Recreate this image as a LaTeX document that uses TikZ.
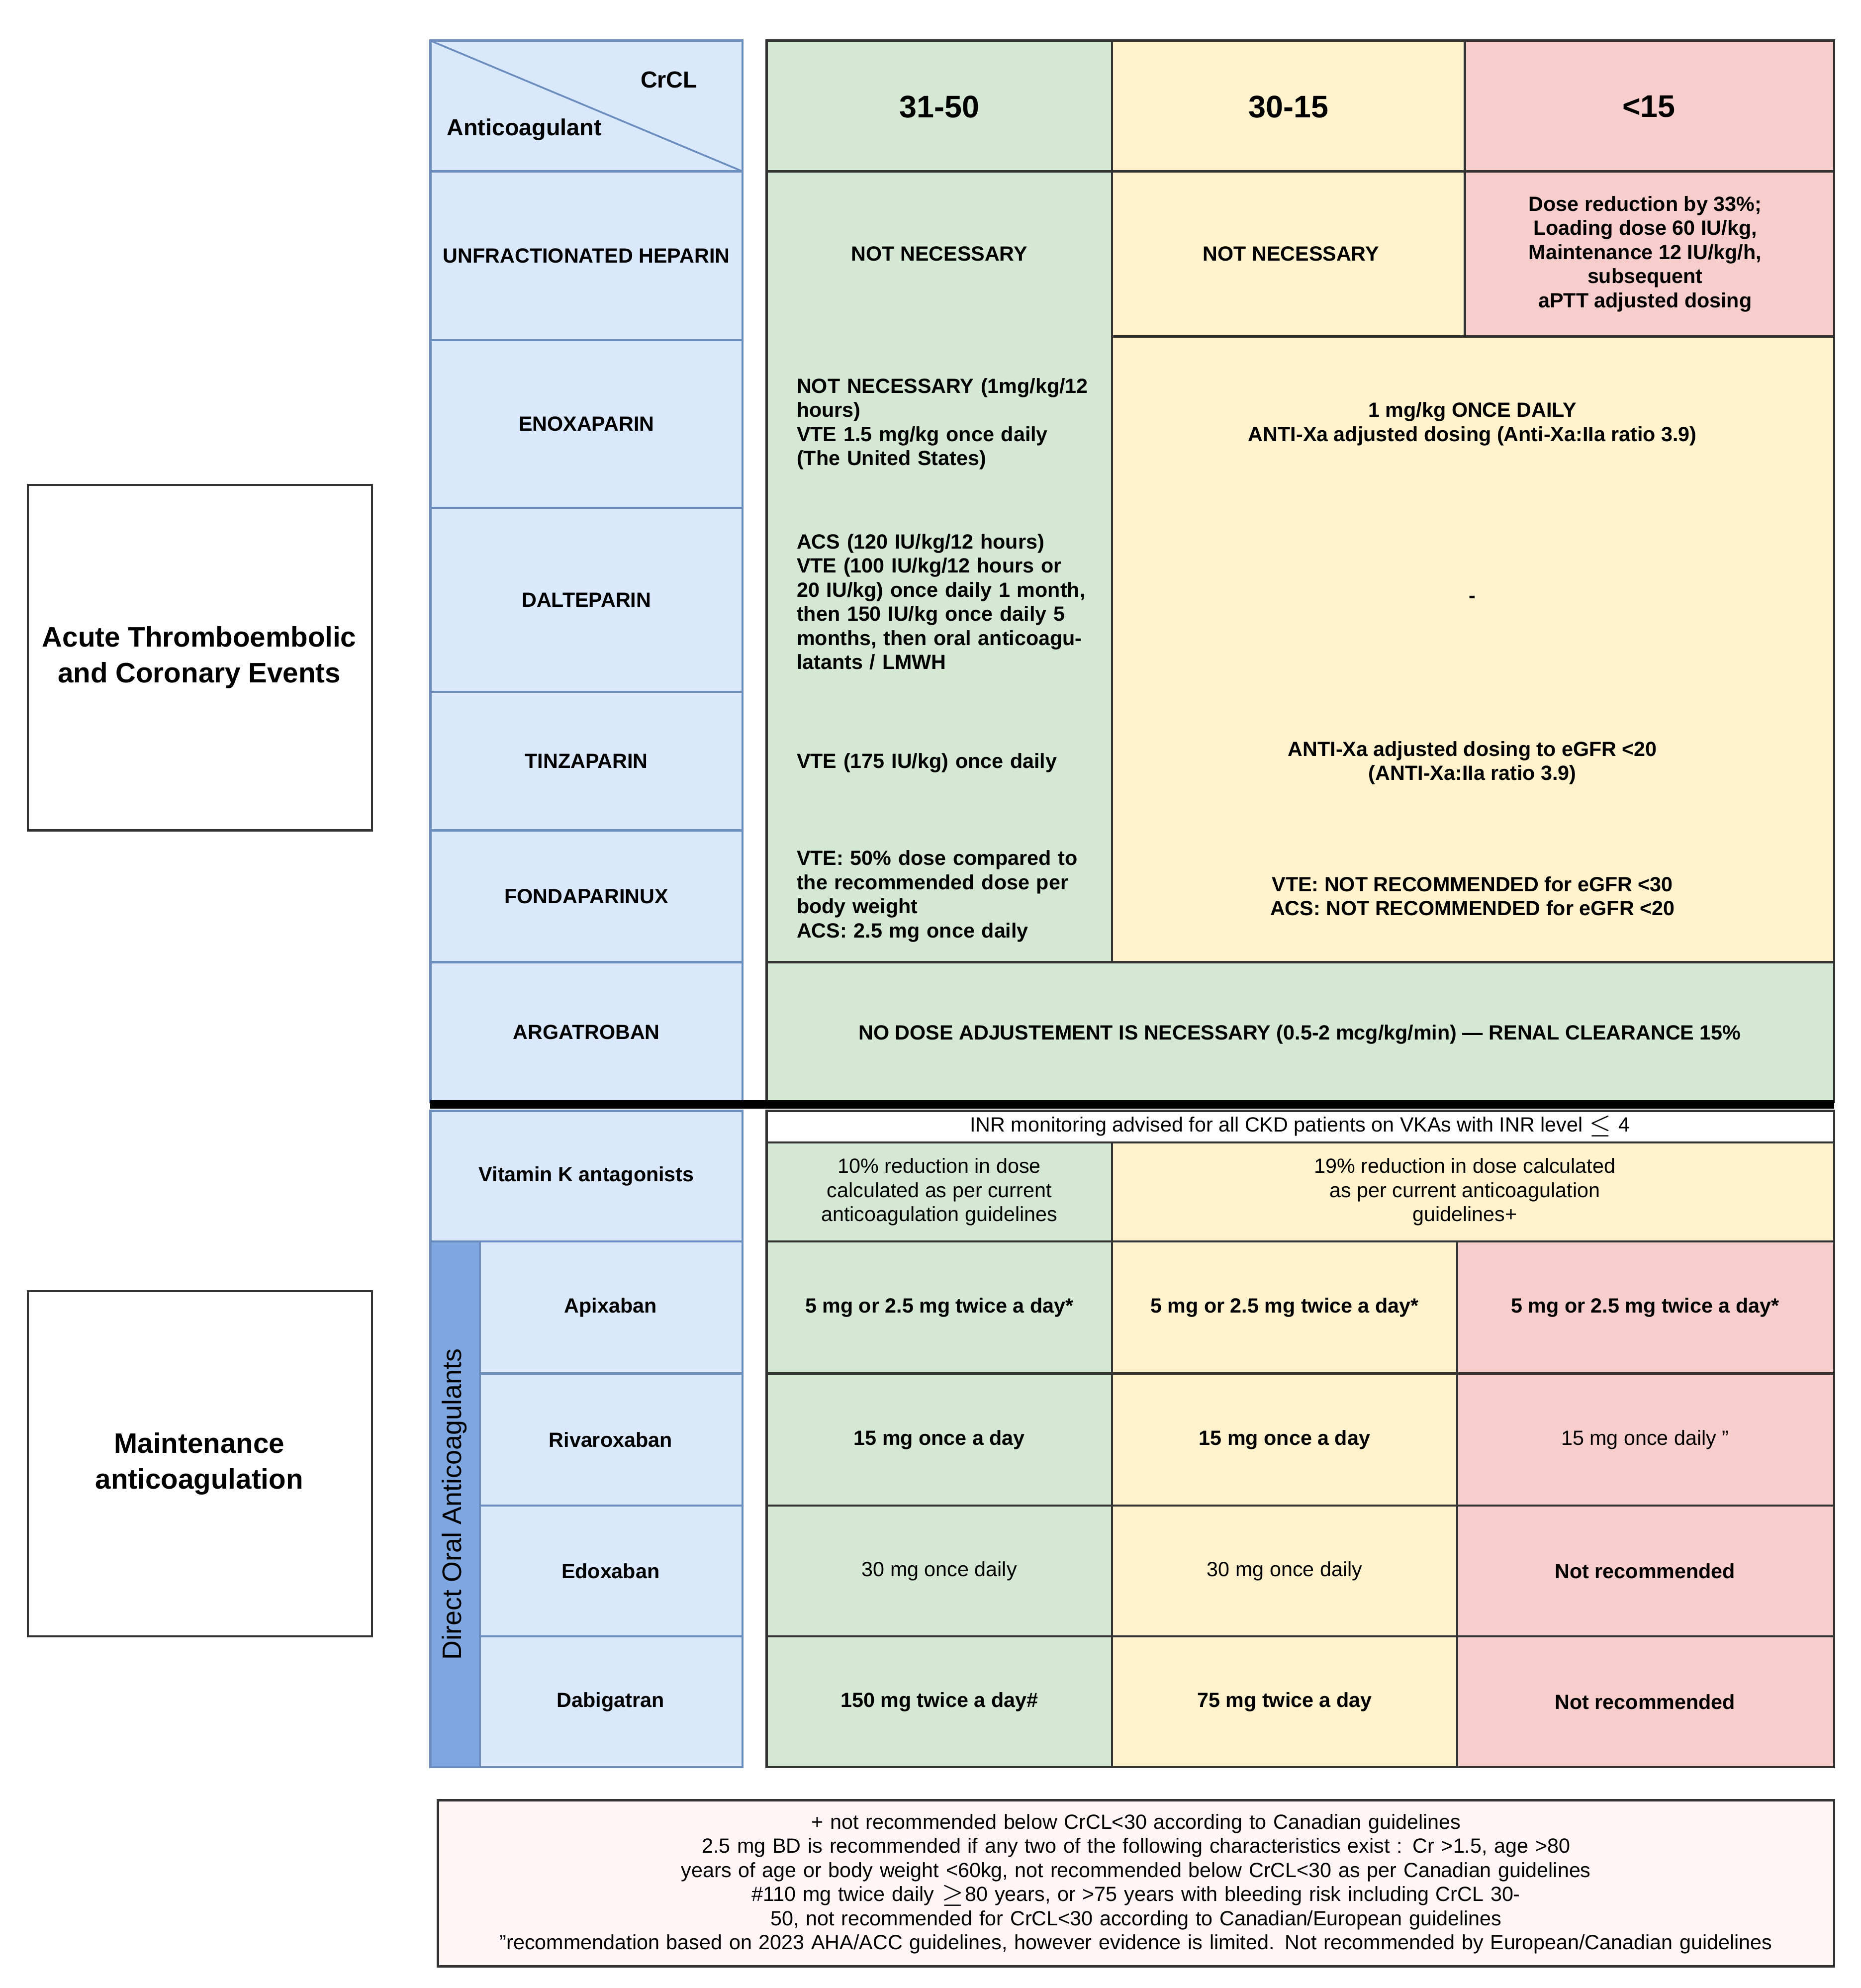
\documentclass[tikz,border=0pt]{standalone}
\usepackage{fontspec}
\setmainfont{Liberation Sans}
\begin{document}
\begin{tikzpicture}[x=0.01cm,y=-0.01cm,
  bx/.style={draw=black!80,line width=0.5pt},
  bl/.style={bx,fill=blue!12!white,draw=blue!45!black!70},
  gr/.style={bx,fill=green!10!gray!15!white,fill={rgb,255:red,213;green,232;blue,212}},
  ye/.style={bx,fill={rgb,255:red,255;green,242;blue,204}},
  re/.style={bx,fill={rgb,255:red,248;green,206;blue,204}},
  t/.style={font=\fontsize{4.6}{5.4}\selectfont\bfseries,align=center,inner sep=0pt},
  tr/.style={font=\fontsize{4.6}{5.4}\selectfont,align=center,inner sep=0pt},
  tl/.style={t,align=left,anchor=west,text width=2.35cm},
  h/.style={font=\fontsize{7}{8}\selectfont\bfseries,inner sep=0pt},
  big/.style={font=\fontsize{6.3}{8}\selectfont\bfseries,align=center,inner sep=0pt}]
\useasboundingbox (0,0) rectangle (1466,1566);
\colorlet{lb}{blue!5!white}
\tikzset{bl/.style={draw={rgb,255:red,108;green,142;blue,191},line width=0.5pt,fill={rgb,255:red,218;green,232;blue,252}}}
% left boxes
\draw[bx] (22,382) rectangle (293,654);
\node[big] (acute) at (157,518) {Acute Thromboembolic\\and Coronary Events};
\draw[bx] (22,1017) rectangle (293,1289);
\node[big] (maint) at (157,1153) {Maintenance\\anticoagulation};
% left column
\draw[bl] (339,32) rectangle (585,135);
\draw[bl,line width=0.4pt] (339,32) -- (585,135);
\node[t,font=\fontsize{5.2}{6}\selectfont\bfseries] (crcl) at (527,63) {CrCL};
\node[t,font=\fontsize{5.2}{6}\selectfont\bfseries] (anti) at (413,102) {Anticoagulant};
\foreach \a/\b/\n/\l in {135/268/ufh/UNFRACTIONATED HEPARIN,268/400/enox/ENOXAPARIN,400/545/dalt/DALTEPARIN,545/654/tinz/TINZAPARIN,654/758/fond/FONDAPARINUX,758/868/arga/ARGATROBAN,875/978/vka/Vitamin K antagonists}{
  \draw[bl] (339,\a) rectangle (585,\b);
  \node[t] (\n) at (462,{(\a+\b)/2}) {\l};}
\foreach \a/\b/\n/\l in {978/1082/apix/Apixaban,1082/1186/riva/Rivaroxaban,1186/1289/edox/Edoxaban,1289/1392/dabi/Dabigatran}{
  \draw[bl] (378,\a) rectangle (585,\b);
  \node[t] (\n) at (481,{(\a+\b)/2}) {\l};}
\draw[bl,fill={rgb,255:red,126;green,166;blue,224}] (339,978) rectangle (378,1392);
\node[font=\fontsize{6}{7}\selectfont,rotate=90,inner sep=0pt] (doac) at (358,1185) {Direct Oral Anticoagulants};
% header
\draw[gr] (604,32) rectangle (876,135); \node[h] (h1) at (740,84) {31-50};
\draw[ye] (876,32) rectangle (1154,135); \node[h] (h2) at (1015,84) {30-15};
\draw[re] (1154,32) rectangle (1445,135); \node[h] (h3) at (1299,84) {<15};
% green column
\draw[gr] (604,135) rectangle (876,758);
\node[t] (g1) at (740,200) {NOT NECESSARY};
\node[tl] (g2) at (627,334) {NOT NECESSARY (1mg/kg/12 hours)\\VTE 1.5 mg/kg once daily (The United States)};
\node[tl] (g3) at (627,474) {ACS (120 IU/kg/12 hours)\\VTE (100 IU/kg/12 hours or 20 IU/kg) once daily 1 month, then 150 IU/kg once daily 5 months, then oral anticoagulatants / LMWH};
\node[tl] (g4) at (627,601) {VTE (175 IU/kg) once daily};
\node[tl] (g5) at (627,706) {VTE: 50\% dose compared to the recommended dose per body weight\\ACS: 2.5 mg once daily};
\draw[ye] (876,135) rectangle (1154,265); \node[t] (y1) at (1017,200) {NOT NECESSARY};
\draw[re] (1154,135) rectangle (1445,265);
\node[t] (r1) at (1296,200) {Dose reduction by 33\%;\\Loading dose 60 IU/kg,\\Maintenance 12 IU/kg/h,\\subsequent\\aPTT adjusted dosing};
\draw[ye] (876,265) rectangle (1445,758);
\node[t] (y2) at (1160,334) {1 mg/kg ONCE DAILY\\ANTI-Xa adjusted dosing (Anti-Xa:IIa ratio 3.9)};
\node[t] (y3) at (1160,472) {-};
\node[t] (y4) at (1160,601) {ANTI-Xa adjusted dosing to eGFR <20\\(ANTI-Xa:IIa ratio 3.9)};
\node[t] (y5) at (1160,706) {VTE: NOT RECOMMENDED for eGFR <30\\ACS: NOT RECOMMENDED for eGFR <20};
\draw[gr] (604,758) rectangle (1445,868);
\node[t] (ar) at (1024,815) {NO DOSE ADJUSTEMENT IS NECESSARY (0.5-2 mcg/kg/min) --- RENAL CLEARANCE 15\%};
\draw[line width=0.065cm] (339,870) -- (1445,870);
% VKA
\draw[bx,fill=white] (604,875) rectangle (1445,900);
\node[tr] (inr) at (1024,887) {INR monitoring advised for all CKD patients on VKAs with INR level $\leq$ 4};
\draw[gr] (604,900) rectangle (876,978);
\node[tr] (v1) at (740,939) {10\% reduction in dose\\calculated as per current\\anticoagulation guidelines};
\draw[ye] (876,900) rectangle (1445,978);
\node[tr] (v2) at (1154,939) {19\% reduction in dose calculated\\as per current anticoagulation\\guidelines+};
% DOAC
\foreach \a/\b/\n/\p/\q/\r/\fa/\fb/\fc in {
 978/1082/a/{5 mg or 2.5 mg twice a day*}/{5 mg or 2.5 mg twice a day*}/{5 mg or 2.5 mg twice a day*}/t/t/t,
 1082/1186/b/{15 mg once a day}/{15 mg once a day}/{15 mg once daily "}/t/t/tr,
 1186/1289/c/{30 mg once daily}/{30 mg once daily}/{Not recommended}/tr/tr/t,
 1289/1392/d/{150 mg twice a day\#}/{75 mg twice a day}/{Not recommended}/t/t/t}{
  \draw[gr] (604,\a) rectangle (876,\b); \node[\fa] (\n1) at (740,{(\a+\b)/2}) {\p};
  \draw[ye] (876,\a) rectangle (1148,\b); \node[\fb] (\n2) at (1012,{(\a+\b)/2}) {\q};
  \draw[re] (1148,\a) rectangle (1445,\b); \node[\fc] (\n3) at (1296,{(\a+\b)/2}) {\r};}
% footnote
\draw[bx,fill={rgb,255:red,255;green,245;blue,244}] (345,1418) rectangle (1445,1549);
\node[tr,text width=10.8cm] (fn) at (895,1484) {+ not recommended below CrCL<30 according to Canadian guidelines\\
*2.5 mg BD is recommended if any two of the following characteristics exist : Cr >1.5, age >80 years of age or body weight <60kg, not recommended below CrCL<30 as per Canadian guidelines\\
\#110 mg twice daily $\geq$80 years, or >75 years with bleeding risk including CrCL 30-50, not recommended for CrCL<30 according to Canadian/European guidelines\\
"recommendation based on 2023 AHA/ACC guidelines, however evidence is limited. Not recommended by European/Canadian guidelines};
\end{tikzpicture}
\end{document}
